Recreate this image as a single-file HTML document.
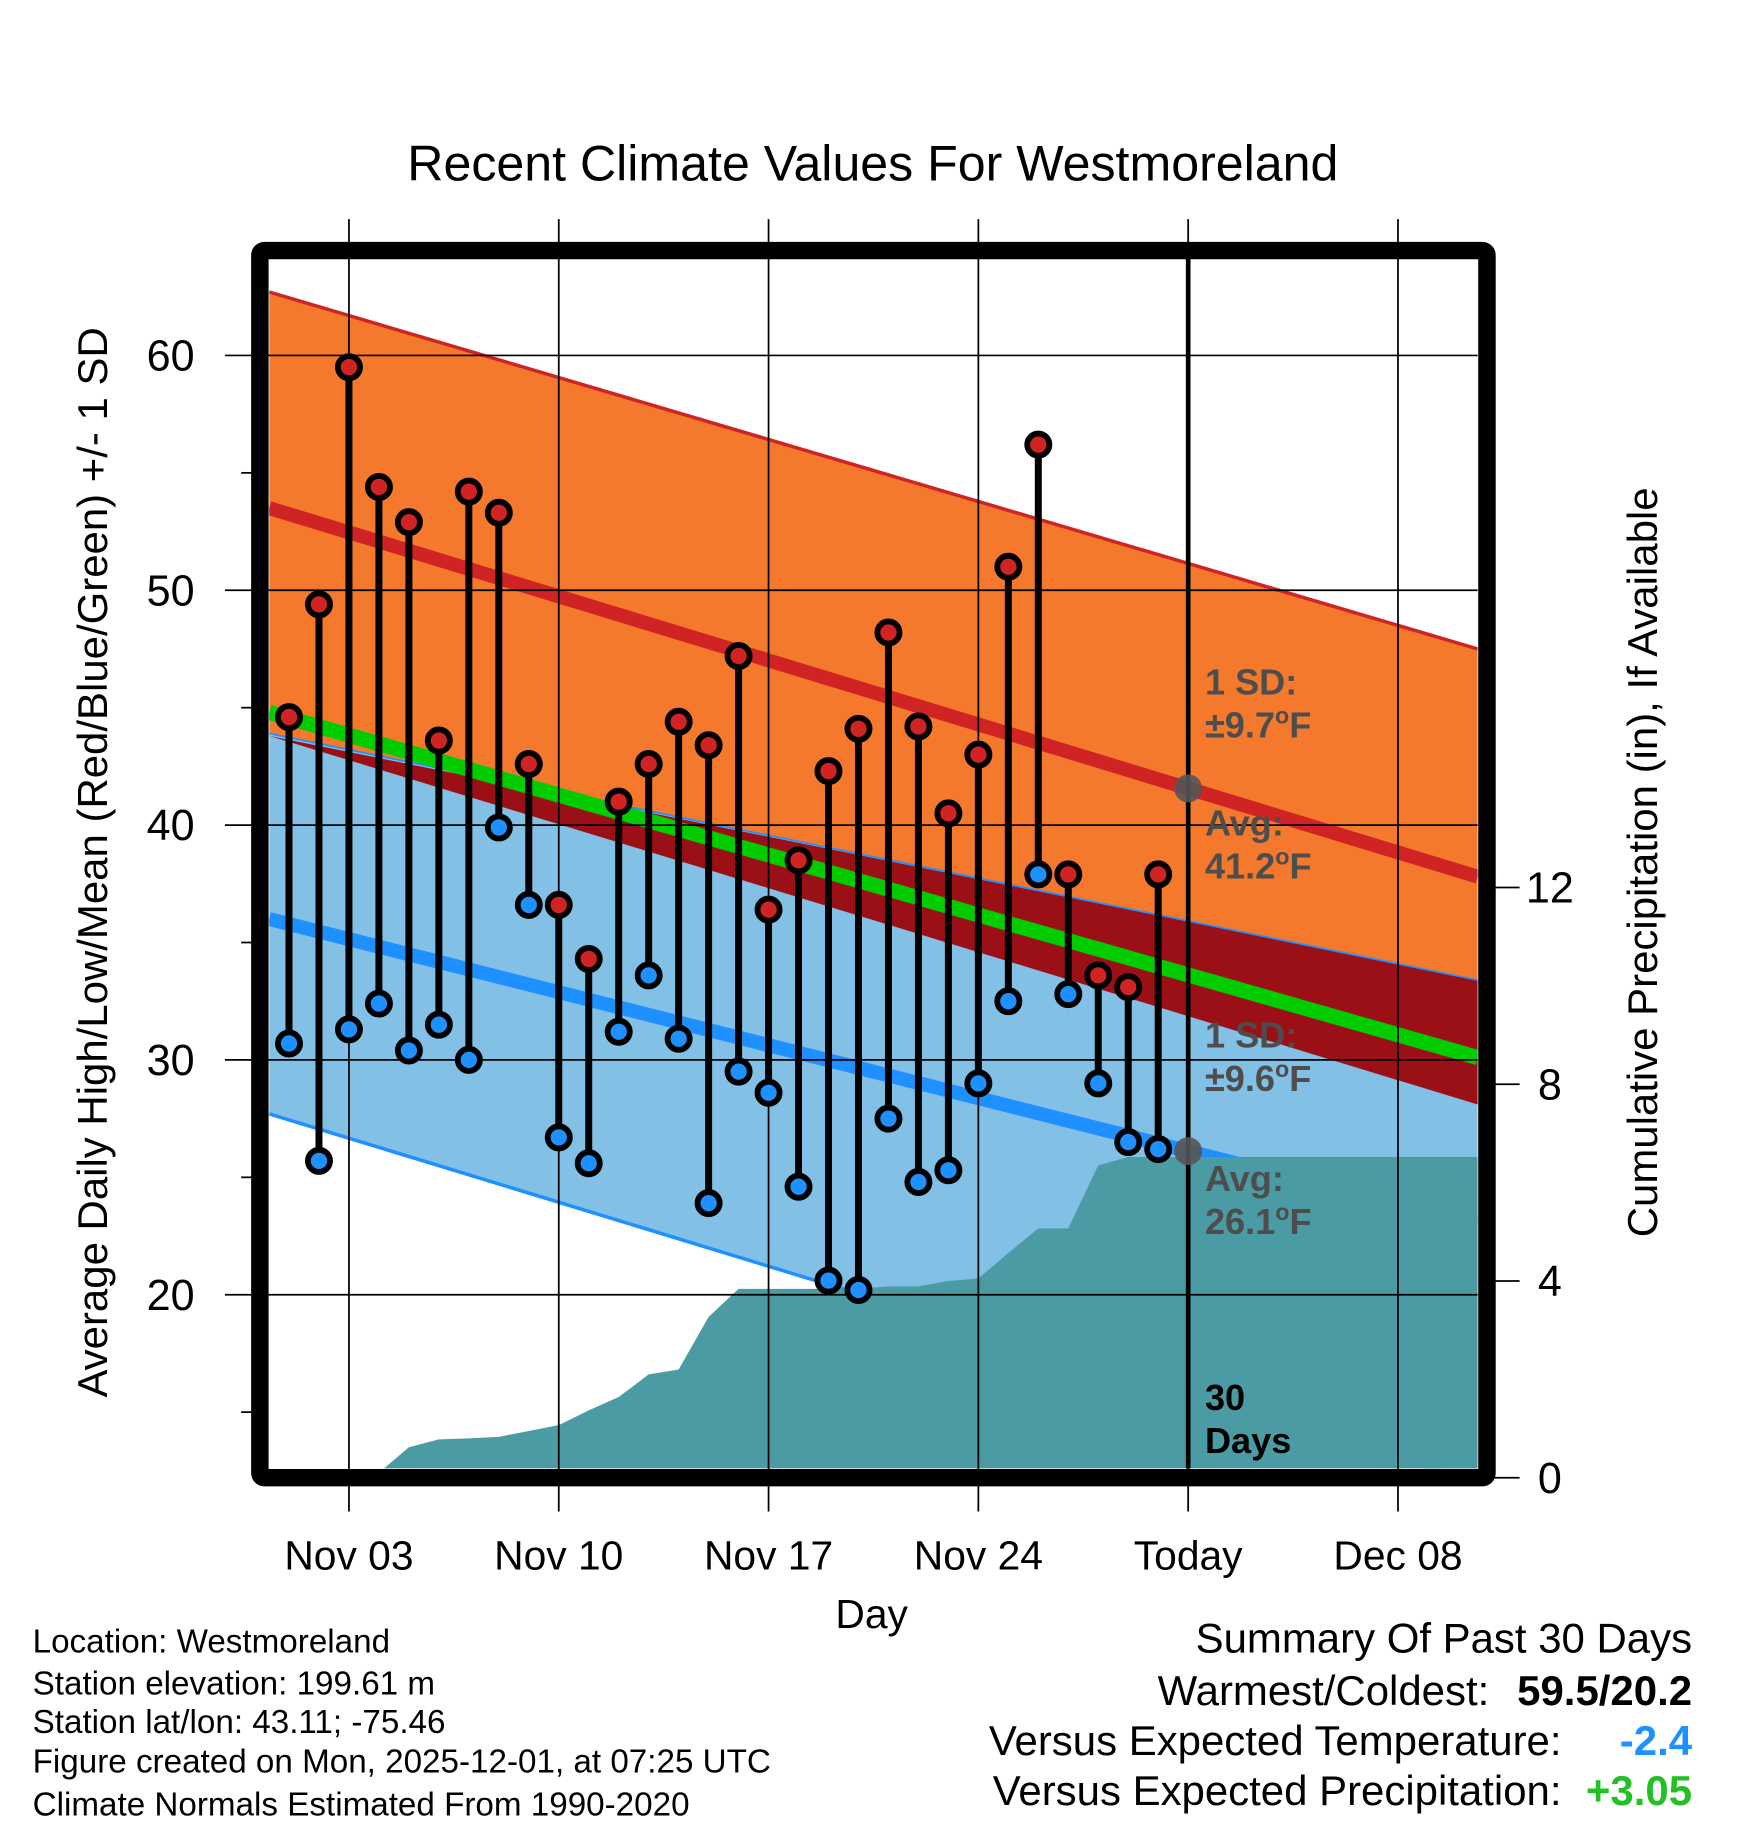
<!DOCTYPE html>
<html><head><meta charset="utf-8"><style>
html,body{margin:0;padding:0;background:#fff}
svg{display:block}
text{font-family:"Liberation Sans",Arial,sans-serif}
</style></head><body>
<svg id="chart" width="1748" height="1828" viewBox="0 0 1500 1568.6" preserveAspectRatio="none" xmlns="http://www.w3.org/2000/svg">
<defs><clipPath id="plotclip"><rect x="231" y="222" width="1037" height="1038"/></clipPath></defs>
<g id="bands" clip-path="url(#plotclip)"></g>
<g id="grid"></g>
<g id="marks" clip-path="url(#plotclip)"></g>
<rect x="223" y="215" width="1053" height="1053" fill="none" stroke="#000" stroke-width="15" rx="4"/>
<g id="axes"></g>
<text x="749" y="155" font-size="43" text-anchor="middle">Recent Climate Values For Westmoreland</text>
<text x="748" y="1397" font-size="35" text-anchor="middle">Day</text>
<text transform="translate(92,740) rotate(-90)" font-size="36" text-anchor="middle">Average Daily High/Low/Mean (Red/Blue/Green) +/- 1 SD</text>
<text transform="translate(1422,740) rotate(-90)" font-size="36" text-anchor="middle">Cumulative Precipitation (in), If Available</text>
<g font-size="28.5">
<text x="28" y="1418">Location: Westmoreland</text>
<text x="28" y="1454">Station elevation: 199.61 m</text>
<text x="28" y="1487">Station lat/lon: 43.11; -75.46</text>
<text x="28" y="1521">Figure created on Mon, 2025-12-01, at 07:25 UTC</text>
<text x="28" y="1558">Climate Normals Estimated From 1990-2020</text>
</g>
<g font-size="36">
<text x="1452" y="1418" text-anchor="end">Summary Of Past 30 Days</text>
<text x="1278" y="1463" text-anchor="end">Warmest/Coldest:</text>
<text x="1452" y="1463" text-anchor="end" font-weight="bold">59.5/20.2</text>
<text x="1340" y="1506" text-anchor="end">Versus Expected Temperature:</text>
<text x="1452" y="1506" text-anchor="end" font-weight="bold" fill="#1e90ff">-2.4</text>
<text x="1340" y="1549" text-anchor="end">Versus Expected Precipitation:</text>
<text x="1452" y="1549" text-anchor="end" font-weight="bold" fill="#22c022">+3.05</text>
</g>
</svg>
<script>
const xLabels = ["Nov 03","Nov 10","Nov 17","Nov 24","Today","Dec 08"];
const xLabelDays = [2,9,16,23,30,37];
const yTicks = [20,30,40,50,60];
const y2Ticks = [0,4,8,12];
const highs = [44.6,49.4,59.5,54.4,52.9,43.6,54.2,53.3,42.6,36.6,34.3,41.0,42.6,44.4,43.4,47.2,36.4,38.5,42.3,44.1,48.2,44.2,40.5,43.0,51.0,56.2,37.9,33.6,33.1,37.9];
const lows = [30.7,25.7,31.3,32.4,30.4,31.5,30.0,39.9,36.6,26.7,25.6,31.2,33.6,30.9,23.9,29.5,28.6,24.6,20.6,20.2,27.5,24.8,25.3,29.0,32.5,37.9,32.8,29.0,26.5,26.2];
const precip = [0,0,0,0.1,0.62,0.78,0.8,0.83,0.95,1.07,1.37,1.64,2.1,2.2,3.27,3.84,3.84,3.84,3.84,3.84,3.89,3.89,4.0,4.05,4.57,5.07,5.07,6.35,6.52,6.52];
// normals at start and end of plot
const normDays = [-0.66, 39.66];
const normHigh = [53.5, 37.8];
const normHighUpper = [62.7, 47.5];
const normHighLower = [43.8, 28.1];
const normLow = [36.0, 23.0];
const normLowUpper = [43.9, 33.4];
const normLowLower = [27.7, 12.0];
const normMean = [44.8, 30.1];

const NS="http://www.w3.org/2000/svg";
const X = d => 248 + 25.72*d;
const Y = t => 1111 - (t-20)*20.15;
const Y2 = p => 1268 - p*42.2;
function mk(tag, attrs, parent){const e=document.createElementNS(NS,tag);for(const k in attrs)e.setAttribute(k,attrs[k]);parent.appendChild(e);return e;}
const bands=document.getElementById('bands'), grid=document.getElementById('grid'), marks=document.getElementById('marks'), axes=document.getElementById('axes');
const x0=X(normDays[0]), x1=X(normDays[1]);
const hU=normHighUpper, hL=normHighLower, lU=normLowUpper, lL=normLowLower;
const P=(a,b)=>`${x0},${Y(a[0])} ${x1},${Y(a[1])} ${x1},${Y(b[1])} ${x0},${Y(b[0])}`;
let e;
e=mk('polygon',{points:P(hU,hL),fill:'#f5792c'},bands);


e=mk('polygon',{points:P(lU,lL),fill:'#82c0e6'},bands);


e=mk('polygon',{points:`${x0},${Y(Math.min(lU[0],hL[0]))} ${x1},${Y(lU[1])} ${x1},${Y(hL[1])} ${x0},${Y(Math.min(lU[0],hL[0]))}`,fill:'#9b1016'},bands);


function line(a,w,c,name){const l=mk('line',{x1:x0,y1:Y(a[0]),x2:x1,y2:Y(a[1]),stroke:c,'stroke-width':w},bands);}
line(lL,3,'#1e90ff','low-lower-sd-line');
line(normLow,12,'#1e90ff','avg-low-line');
// precipitation
let pts=`${X(0)},1268 `;
precip.forEach((p,i)=>{pts+=`${X(i)},${Y2(p)} `;});
pts+=`1268,${Y2(precip[precip.length-1])} 1268,1268`;
e=mk('polygon',{points:pts,fill:'#4a9ba3'},bands);


line(hU,3,'#d02424','high-upper-sd-line');
line(lU,1.5,'#1e90ff','low-upper-sd-line');
line(normHigh,12,'#d02424','avg-high-line');
line(normMean,13,'#00cc00','avg-mean-line');
// grid
xLabelDays.forEach((d,i)=>{
  const g=mk('line',{x1:X(d),y1:188,x2:X(d),y2:1297,stroke:'#000','stroke-width':1.5},grid);
  
  
  const t=mk('text',{x:X(d),y:1347,'font-size':35,'text-anchor':'middle'},axes);
  t.textContent=xLabels[i];
  
  
});
yTicks.forEach(v=>{
  const g=mk('line',{x1:193,y1:Y(v),x2:1268,y2:Y(v),stroke:'#000','stroke-width':1.5},grid);
  
  
  const t=mk('text',{x:167,y:Y(v)+13,'font-size':37,'text-anchor':'end'},axes);
  t.textContent=v;
  
  
});
[15,25,35,45,55].forEach(v=>{
  const g=mk('line',{x1:207,y1:Y(v),x2:216,y2:Y(v),stroke:'#000','stroke-width':1.5},grid);
  
  
});
y2Ticks.forEach(v=>{
  const g=mk('line',{x1:1280,y1:Y2(v),x2:1304,y2:Y2(v),stroke:'#000','stroke-width':1.5},axes);
  
  
  const t=mk('text',{x:1330,y:Y2(v)+13,'font-size':37,'text-anchor':'middle'},axes);
  t.textContent=v;
  
  
});
e=mk('line',{x1:X(30),y1:222,x2:X(30),y2:1262,stroke:'#000','stroke-width':4},marks);


highs.forEach((h,i)=>{
  const s=mk('line',{x1:X(i),y1:Y(h),x2:X(i),y2:Y(lows[i]),stroke:'#000','stroke-width':6},marks);
  
  
});
highs.forEach((h,i)=>{
  const c=mk('circle',{cx:X(i),cy:Y(h),r:9.5,fill:'#d02424',stroke:'#000','stroke-width':5},marks);
  
  
  const d=mk('circle',{cx:X(i),cy:Y(lows[i]),r:9.5,fill:'#1e90ff',stroke:'#000','stroke-width':5},marks);
  
  
});
const fr=(30-normDays[0])/(normDays[1]-normDays[0]);
const tH=normHigh[0]+(normHigh[1]-normHigh[0])*fr;
const tL=normLow[0]+(normLow[1]-normLow[0])*fr;
e=mk('circle',{cx:X(30),cy:Y(tH),r:12,fill:'#555','fill-opacity':0.9},marks);


e=mk('circle',{cx:X(30),cy:Y(tL),r:12,fill:'#555','fill-opacity':0.9},marks);


function ann(lines,y,name,col){
  const t=mk('text',{x:1034,y:y,'font-size':31,'font-weight':'bold',fill:col},marks);
  
  
  lines.forEach((l,k)=>{const s=mk('tspan',{x:1034,dy:k?37:0},t);s.innerHTML=l;});
}
ann(['1 SD:','±9.7<tspan dy="-12" font-size="20">o</tspan><tspan dy="12">F</tspan>'],596,'high-sd-annotation','#4d4d4d');
ann(['Avg:','41.2<tspan dy="-12" font-size="20">o</tspan><tspan dy="12">F</tspan>'],717,'high-avg-annotation','#4d4d4d');
ann(['1 SD:','±9.6<tspan dy="-12" font-size="20">o</tspan><tspan dy="12">F</tspan>'],899,'low-sd-annotation','#4d4d4d');
ann(['Avg:','26.1<tspan dy="-12" font-size="20">o</tspan><tspan dy="12">F</tspan>'],1022,'low-avg-annotation','#4d4d4d');
ann(['30','Days'],1210,'days-annotation','#000');
</script>
</body></html>
